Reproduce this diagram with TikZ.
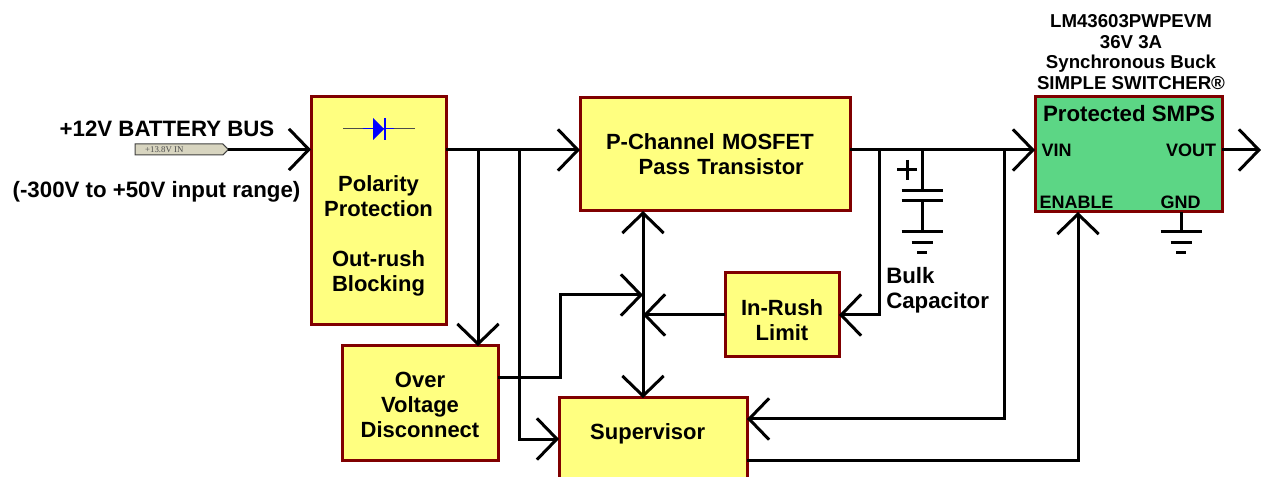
\documentclass[tikz,border=0pt]{standalone}
\usepackage{fontspec}
\setmainfont{Liberation Sans}
\newfontfamily\flagfont{Liberation Serif}
\usepackage{xcolor}
\usepackage{tikz}
\usetikzlibrary{arrows.meta}
\usetikzlibrary{shapes.symbols}
\definecolor{boxyellow}{HTML}{FFFF80}
\definecolor{boxred}{HTML}{800000}
\definecolor{boxgreen}{HTML}{5CD685}
\definecolor{flagtan}{HTML}{D8D5C0}
\tikzset{
  >={Straight Barb[length=15pt,width=31pt]},
  wire/.style={line width=2.25pt,draw=black},
  block/.style={draw=boxred,fill=boxyellow,line width=2.25pt,inner sep=0pt,outer sep=0pt,align=center,font=\fontsize{16.5}{18.75}\selectfont\bfseries},
  tag/.style={inner sep=0pt,align=center,font=\fontsize{16.7}{18.75}\selectfont\bfseries},
  topnote/.style={inner sep=0pt,align=center,font=\fontsize{14}{15.4}\selectfont\bfseries},
  pinname/.style={inner sep=0pt,font=\fontsize{13.5}{15}\selectfont\bfseries},
  pics/gndmark/.style={code={
    \draw [wire] (-20.5,0) -- (20.5,0);
    \draw [wire] (-10.5,11) -- (10.5,11);
    \draw [wire] (-5,21) -- (5,21);
  }},
}
\begin{document}
\begin{tikzpicture}[x=0.75pt,y=-0.75pt]
    \useasboundingbox (0,0) rectangle (1261,477);
    \clip (0,0) rectangle (1261,477);
    % blocks
    \node[block,minimum width=135*0.75pt,minimum height=228*0.75pt] (polarity) at (378.5,211) {\mbox{}\\[30pt]Polarity\\Protection\\[18.75pt]Out-rush\\Blocking};
    \node[block,minimum height=113*0.75pt,text width=270*0.75pt,align=left] (mosfet) at (715,154.5) {\hspace*{19.5pt}P-Channel MOSFET\\\hspace*{44pt}Pass Transistor};
    \node[block,minimum width=156*0.75pt,minimum height=114*0.75pt] (overv) at (420,403) {\mbox{}\\[-3.75pt]Over\\Voltage\\Disconnect};
    \node[block,minimum width=114*0.75pt,minimum height=84*0.75pt] (inrush) at (782,315) {\mbox{}\\[0.75pt]In-Rush\\Limit};
    \node[block,minimum width=188*0.75pt,minimum height=82*0.75pt] (supervisor) at (653,439) {\raisebox{10.5pt}{\hspace*{-8pt}Supervisor}};
    \node[block,fill=boxgreen,minimum width=187*0.75pt,minimum height=115*0.75pt] (smps) at (1128.5,154.5) {};
    % labels
    \node[tag] (smpsname) at (1129,114) {Protected SMPS};
    \node[pinname] (vin) at (1056.5,150) {VIN};
    \node[pinname] (vout) at (1191,150) {VOUT};
    \node[pinname] (enable) at (1076.5,202) {ENABLE};
    \node[pinname] (gnd) at (1180.5,202) {GND};
    \node[topnote] (evm) at (1131,52) {LM43603PWPEVM\\36V 3A\\Synchronous Buck\\SIMPLE SWITCHER®};
    \node[tag] (busname) at (167,129) {+12V BATTERY BUS};
    \node[tag] (busrange) at (156.5,192) {(-300V to +50V input range)};
    \node[tag,align=left,anchor=west] (bulk) at (886,290) {Bulk\\Capacitor};
    \node[signal,signal to=east,draw=black!75,fill=flagtan,line width=0.75pt,inner sep=0pt,outer sep=0pt,minimum width=70pt,minimum height=8.25pt,text=black!70,font=\flagfont\fontsize{6.6}{7}\selectfont] (flag) at (179,149.5) {+13.8V IN\hspace*{22pt}};
    % tap points on the bus
    \coordinate (tapA) at (478,150);
    \coordinate (tapB) at (519,150);
    \coordinate (tapC) at (879,150);
    \coordinate (tapD) at (922,150);
    \coordinate (tapE) at (1004,150);
    \coordinate (ctrlA) at (643,295);
    \coordinate (ctrlB) at (560,378);
    \coordinate (supA) at (519,439);
    \coordinate (supB) at (1004,419);
    \coordinate (supC) at (1078,460);
    \coordinate (load) at (1261,150);
    \coordinate (plateA) at (922,191);
    \coordinate (plateB) at (922,201);
    \coordinate (capgnd) at (922,232);
    \coordinate (smpsgnd) at (1181,232);
    % wires
    \draw [->,wire] (flag.east) -- (flag.east -| polarity.west);
    \draw [->,wire] (polarity.east |- tapA) -- (mosfet.west |- tapA);
    \draw [->,wire] (tapA) -- (tapA |- overv.north);
    \draw [->,wire] (tapB) |- (supervisor.west |- supA);
    \draw [->,wire] (overv.east |- ctrlB) -- (ctrlB) |- (ctrlA);
    \draw [<->,wire] (ctrlA |- mosfet.south) -- (ctrlA |- supervisor.north);
    \draw [->,wire] (inrush.west) -- (ctrlA |- inrush.west);
    \draw [->,wire] (tapC) |- (inrush.east);
    \draw [->,wire] (mosfet.east |- tapA) -- (smps.west |- tapA);
    \draw [->,wire] (tapE) |- (supervisor.east |- supB);
    \draw [->,wire] (supervisor.east |- supC) -| (supC |- smps.south);
    \draw [->,wire] (smps.east |- load) -- (load);
    % bulk capacitor
    \draw [wire] (tapD) -- (plateA);
    \draw [wire] (plateB) -- (capgnd);
    \draw [wire] ([xshift=-20.5*0.75pt]plateA) -- ([xshift=20.5*0.75pt]plateA);
    \draw [wire] ([xshift=-20.5*0.75pt]plateB) -- ([xshift=20.5*0.75pt]plateB);
    \draw [wire] (897,170) -- (917,170);
    \draw [wire] (907,160) -- (907,180);
    \pic at (capgnd) {gndmark};
    % ground of the converter
    \draw [wire] (smpsgnd |- smps.south) -- (smpsgnd);
    \pic at (smpsgnd) {gndmark};
    % diode symbol
    \draw [line width=0.75pt,draw=black!70] (343,129) -- (415,129);
    \draw [line width=0.75pt,draw=blue] (363,129) -- (394,129);
    \fill [blue] (373,118) -- (384,129) -- (373,140) -- cycle;
    \draw [line width=1.1pt,draw=blue] (385,118) -- (385,140);
  \end{tikzpicture}
\end{document}
